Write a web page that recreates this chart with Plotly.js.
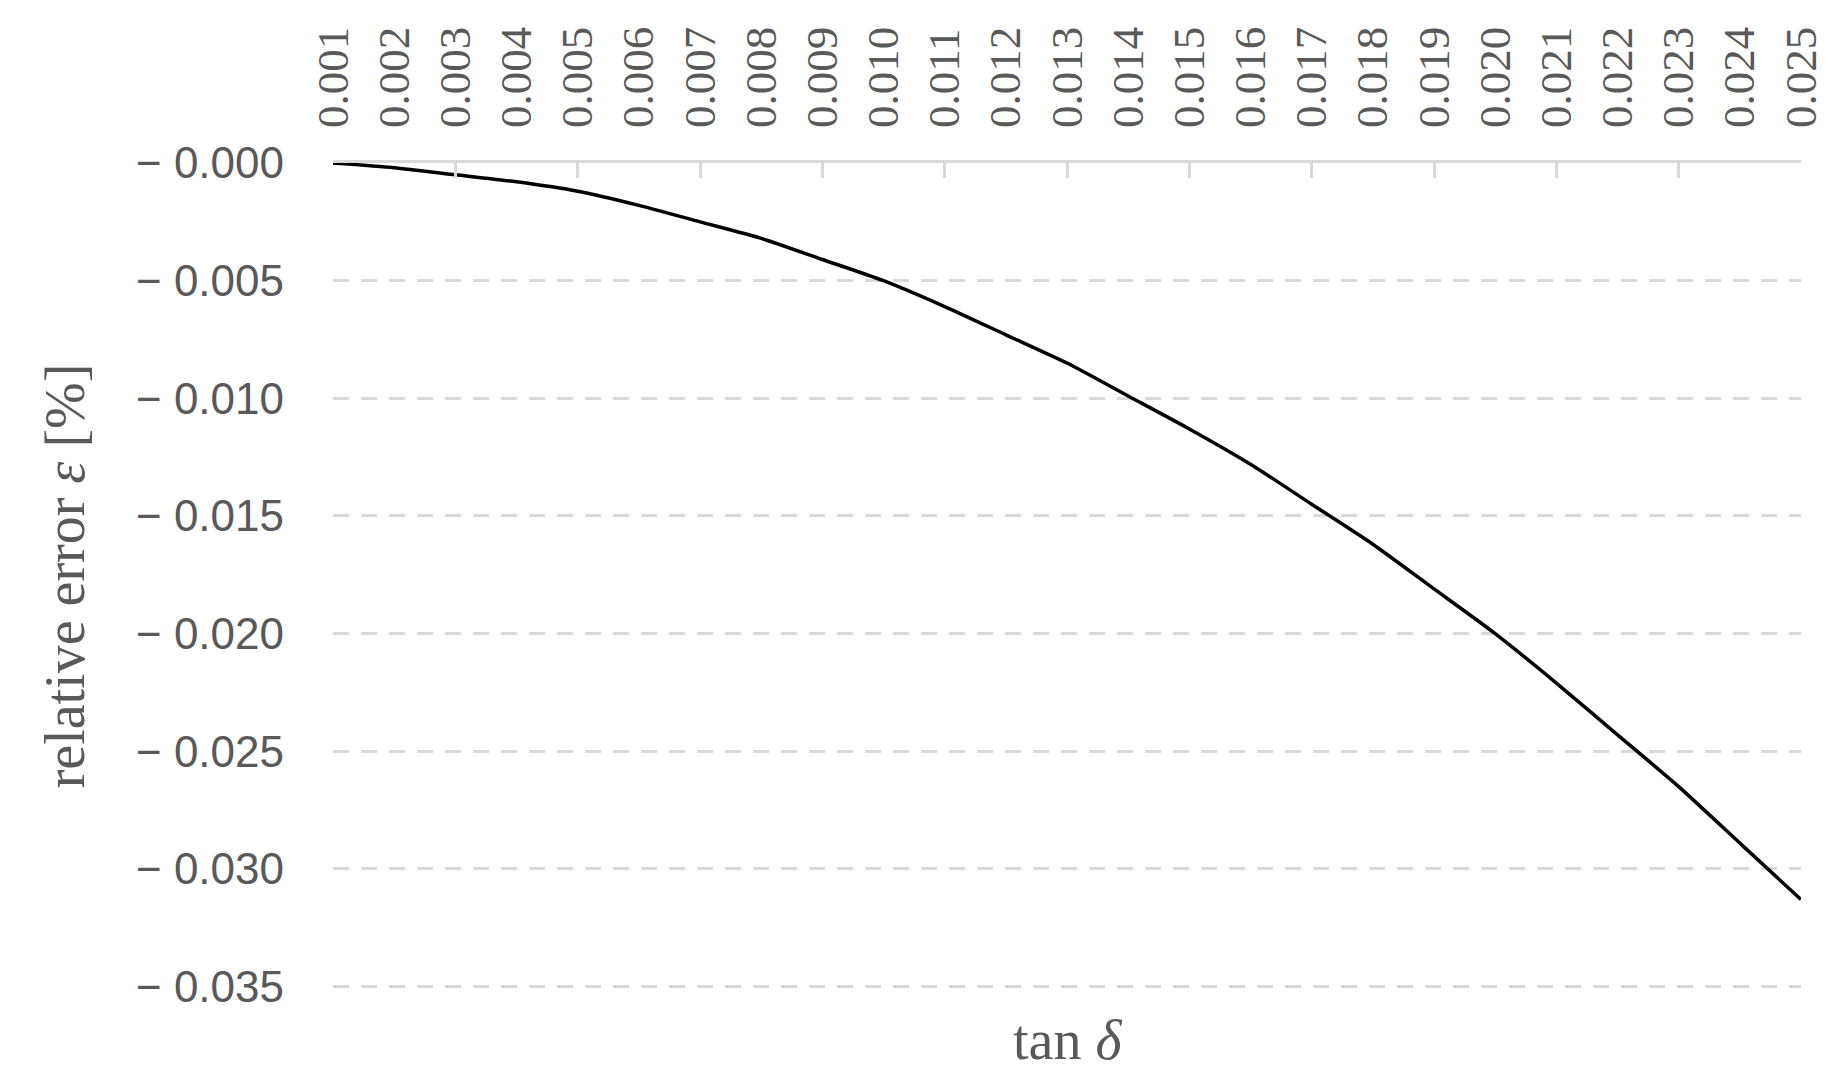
<!DOCTYPE html>
<html>
<head>
<meta charset="utf-8">
<script src="https://cdn.plot.ly/plotly-3.0.1.min.js"></script>
<style>html,body{margin:0;padding:0;background:#fff;}#chart{width:1839px;height:1075px;}</style>
</head>
<body>
<div id="chart"></div>
<script>
// tan δ categories (x axis, shown on top)
const categories = ["0.001","0.002","0.003","0.004","0.005","0.006","0.007","0.008","0.009","0.010",
  "0.011","0.012","0.013","0.014","0.015","0.016","0.017","0.018","0.019","0.020",
  "0.021","0.022","0.023","0.024","0.025"];

// relative error ε [%]
const relativeError = [-0.0000,-0.0002,-0.0005,-0.0008,-0.0012,-0.0018,-0.0025,-0.0032,-0.0041,-0.0050,
  -0.0061,-0.0073,-0.0085,-0.0099,-0.0113,-0.0128,-0.0145,-0.0162,-0.0181,-0.0200,
  -0.0221,-0.0243,-0.0265,-0.0289,-0.0313];

// y tick values and labels
const yTickValues = [0,-0.005,-0.010,-0.015,-0.020,-0.025,-0.030,-0.035];
const yTickLabels = ["\u2212 0.000","\u2212 0.005","\u2212 0.010","\u2212 0.015","\u2212 0.020","\u2212 0.025","\u2212 0.030","\u2212 0.035"];

// tick marks on every other category
const tickMarkCategories = categories.filter((c, i) => i % 2 === 0);

const gray = '#595959';
const lineGray = '#d9d9d9';
const serif = '"Liberation Serif", "Times New Roman", serif';
const sans = '"Liberation Sans", Arial, sans-serif';

const traces = [
  {
    x: categories,
    y: relativeError,
    type: 'scatter',
    mode: 'lines',
    line: {color: '#000000', width: 3.5, shape: 'spline', smoothing: 0.6},
    showlegend: false,
    hoverinfo: 'x+y'
  },
  {
    x: [],
    y: [],
    xaxis: 'x2',
    type: 'scatter',
    mode: 'lines',
    showlegend: false,
    hoverinfo: 'skip'
  }
];

const layout = {
  width: 1839,
  height: 1075,
  margin: {l: 333, r: 38, t: 163, b: 86, pad: 0},
  paper_bgcolor: '#ffffff',
  plot_bgcolor: '#ffffff',
  showlegend: false,
  xaxis: {
    type: 'category',
    categoryorder: 'array',
    categoryarray: categories,
    range: [0, categories.length - 1],
    side: 'top',
    showline: true,
    linecolor: lineGray,
    linewidth: 3,
    showgrid: false,
    zeroline: false,
    ticks: '',
    tickangle: -90,
    ticklabelstandoff: 23,
    tickfont: {family: serif, size: 45, color: gray},
    fixedrange: true
  },
  xaxis2: {
    type: 'category',
    categoryorder: 'array',
    categoryarray: categories,
    overlaying: 'x',
    anchor: 'y',
    side: 'top',
    range: [0, categories.length - 1],
    showline: false,
    showgrid: false,
    zeroline: false,
    tickmode: 'array',
    tickvals: tickMarkCategories,
    ticks: 'inside',
    ticklen: 15,
    tickwidth: 3,
    tickcolor: lineGray,
    showticklabels: false,
    fixedrange: true
  },
  yaxis: {
    range: [-0.0351, 0],
    tickmode: 'array',
    tickvals: yTickValues,
    ticktext: yTickLabels,
    tickfont: {family: sans, size: 44, color: gray},
    ticks: '',
    ticklabelstandoff: 48,
    showgrid: true,
    gridcolor: lineGray,
    gridwidth: 3,
    griddash: '16px,12px',
    zeroline: false,
    showline: false,
    title: {
      text: 'relative error <i>\u03b5</i> [%]',
      font: {family: serif, size: 56, color: gray},
      standoff: 33
    },
    fixedrange: true
  },
  annotations: [
    {
      text: 'tan <i>\u03b4</i>',
      xref: 'paper', yref: 'paper',
      x: 0.5, y: 0,
      xanchor: 'center', yanchor: 'middle',
      yshift: -51,
      showarrow: false,
      font: {family: serif, size: 56, color: gray}
    }
  ]
};

Plotly.newPlot('chart', traces, layout, {displayModeBar: false, staticPlot: true});
</script>
</body>
</html>
